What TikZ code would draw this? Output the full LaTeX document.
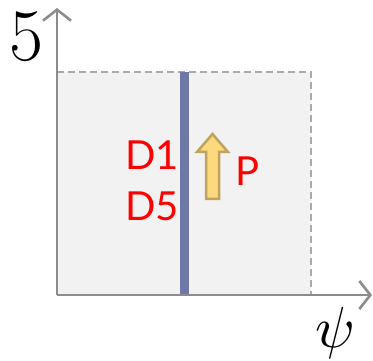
\documentclass[tikz,border=0pt]{standalone}
\usepackage{fontspec}
\newfontfamily\labelfont{Lato}
\usetikzlibrary{arrows.meta}
\definecolor{axisgray}{HTML}{8C8C8C}
\definecolor{dashgray}{HTML}{AAAAAA}
\definecolor{boxfill}{HTML}{F2F2F2}
\definecolor{barblue}{HTML}{6E78A6}
\definecolor{arrfill}{HTML}{FCD97C}
\definecolor{arrline}{HTML}{BFA35E}
\tikzset{
  axis/.style={draw=axisgray, line width=2.6pt, -{Straight Barb[length=11pt,width=28pt,line width=2.6pt]}},
  dashbox/.style={draw=dashgray, line width=1.8pt, dash pattern=on 7pt off 4pt},
  redlabel/.style={text=red, font=\labelfont\fontsize{40}{44}\selectfont, inner sep=0pt, anchor=west},
}
\begin{document}
\begin{tikzpicture}[x=1pt,y=-1pt]
\useasboundingbox (0,0) rectangle (373,361);
% shaded region
\fill[boxfill] (57,72) rectangle (311,295);
\draw[dashbox] (57,72) -- (311,72) -- (311,295);
% bar
\fill[barblue] (180,72) rectangle (188.5,295);
% axes
\coordinate (o) at (57,295);
\coordinate (ytip) at (57,8);
\coordinate (xtip) at (372,295);
\draw[axis] (o) -- (ytip);
\draw[axis] (o) -- (xtip);
% thick arrow
\draw[fill=arrfill, draw=arrline, line width=2.5pt, line join=miter]
  (206,199) -- (206,152) -- (197,152) -- (212.5,134) -- (228,152) -- (219,152) -- (219,199) -- cycle;
% labels
\node[inner sep=0pt, font=\fontsize{74}{80}\selectfont] (five) at (26,37) {5};
\node[inner sep=0pt, scale=5.8] (psi) at (335,333) {$\psi$};
\node[redlabel] (d1) at (125,155) {D1};
\node[redlabel] (d5) at (125,206) {D5};
\node[redlabel, anchor=center] (p) at (248,171) {P};
\end{tikzpicture}
\end{document}
